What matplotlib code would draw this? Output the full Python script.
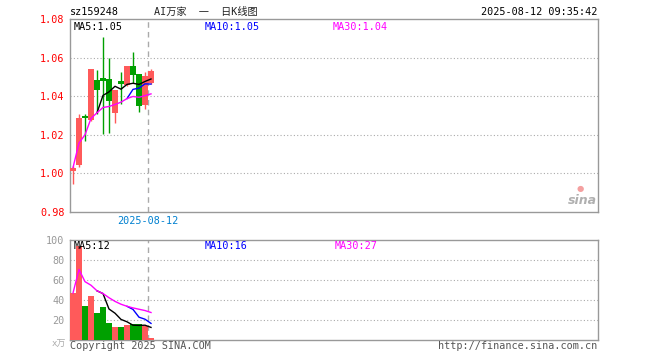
import matplotlib
matplotlib.use('Agg')
import matplotlib.pyplot as plt
import pandas as pd

# price data, one entry per candle
opens = [1.001, 1.0045, 1.030, 1.0275, 1.0486, 1.0496, 1.0487, 1.0311, 1.0477, 1.0456, 1.0554, 1.0514, 1.0355, 1.0466]
closes = [1.003, 1.0285, 1.0285, 1.054, 1.043, 1.048, 1.0377, 1.043, 1.0465, 1.0554, 1.0509, 1.0347, 1.0507, 1.0529]
highs = [1.004, 1.031, 1.031, 1.054, 1.0538, 1.0707, 1.0596, 1.043, 1.0526, 1.0556, 1.0628, 1.0515, 1.0526, 1.054]
lows = [0.9947, 1.0035, 1.017, 1.027, 1.0306, 1.0206, 1.021, 1.026, 1.036, 1.0455, 1.047, 1.032, 1.0335, 1.0465]
volumes = [47, 94, 34, 44, 27, 33, 17, 13, 13, 15, 16, 16, 14, 2]

price_ticks = [0.98, 1.00, 1.02, 1.04, 1.06, 1.08]
vol_ticks = [20, 40, 60, 80, 100]

RED = '#ff5a5a'
GREEN = '#00a000'
GRAY = '#999999'
MONO = ['DejaVu Sans Mono', 'Noto Sans CJK SC']

W, H = 660, 360
fig = plt.figure(figsize=(6.6, 3.6), dpi=100)

def px(x, y):
    return x / W, 1 - y / H

x = list(range(len(closes)))
s_close = pd.Series(closes)
s_vol = pd.Series(volumes)
ma5 = s_close.rolling(5).mean()
ma10 = s_close.rolling(10).mean()
ma30 = s_close.rolling(30, min_periods=1).mean()
vma5 = s_vol.rolling(5).mean()
vma10 = s_vol.rolling(10).mean()
vma30 = s_vol.rolling(30, min_periods=1).mean()

colors = []
for i in x:
    colors.append(RED if closes[i] >= opens[i] else GREEN)

# ---- price panel
ax = fig.add_axes([70 / W, (H - 212) / H, 528 / W, 193 / H])
for i in x:
    ax.vlines(i, lows[i], highs[i], color=colors[i], lw=1, zorder=2)
    bottom = min(opens[i], closes[i])
    height = max(abs(closes[i] - opens[i]), 0.0004)
    ax.bar(i, height, bottom=bottom, width=0.84, color=colors[i], zorder=3)
ax.plot(x, ma5, color='black', lw=1, zorder=4)
ax.plot(x, ma10, color='#0000ff', lw=1, zorder=4)
ax.plot(x, ma30, color='#ff00ff', lw=1, zorder=4)
ax.set_xlim(-0.5, 87.5)
ax.set_ylim(0.98, 1.08)
ax.set_yticks(price_ticks)
ax.set_yticklabels(['%.2f' % t for t in price_ticks], color='red', fontsize=7.3, family=MONO)
ax.set_xticks([])
ax.tick_params(axis='y', length=0, pad=4)
for t in price_ticks[1:-1]:
    ax.axhline(t, color='#aaaaaa', lw=0.8, ls=(0, (1, 2)), zorder=1)
ax.axvline(12.5, color='#aaaaaa', lw=1, ls=(0, (4, 3)), zorder=1)
for sp in ax.spines.values():
    sp.set_color(GRAY)
    sp.set_linewidth(1)

# ---- volume panel
axv = fig.add_axes([70 / W, 20 / H, 528 / W, 100 / H])
axv.bar(x, volumes, width=0.84, color=colors, zorder=3)
axv.plot(x, vma5, color='black', lw=1, zorder=4)
axv.plot(x, vma10, color='#0000ff', lw=1, zorder=4)
axv.plot(x, vma30, color='#ff00ff', lw=1, zorder=4)
axv.set_xlim(-0.5, 87.5)
axv.set_ylim(0, 100)
axv.set_yticks(vol_ticks)
axv.set_yticklabels([str(t) for t in vol_ticks], color=GRAY, fontsize=7.3, family=MONO)
axv.set_xticks([])
axv.tick_params(axis='y', length=0, pad=4)
for t in vol_ticks[:-1]:
    axv.axhline(t, color='#aaaaaa', lw=0.8, ls=(0, (1, 2)), zorder=1)
axv.axvline(12.5, color='#aaaaaa', lw=1, ls=(0, (4, 3)), zorder=1)
for sp in axv.spines.values():
    sp.set_color(GRAY)
    sp.set_linewidth(1)

# ---- texts
fs = 7.3
fig.text(*px(70, 12), 'sz159248', fontsize=fs, family=MONO, va='center', ha='left')
fig.text(*px(154, 12), 'AI万家  一  日K线图', fontsize=fs, family=MONO, va='center', ha='left', color='#222222')
fig.text(*px(597, 12), '2025-08-12 09:35:42', fontsize=fs, family=MONO, va='center', ha='right')

fig.text(*px(74, 27), 'MA5:%.2f' % ma5.iloc[-1], fontsize=fs, family=MONO, va='center', color='black')
fig.text(*px(205, 27), 'MA10:%.2f' % ma10.iloc[-1], fontsize=fs, family=MONO, va='center', color='#0000ff')
fig.text(*px(333, 27), 'MA30:%.2f' % ma30.iloc[-1], fontsize=fs, family=MONO, va='center', color='#ff00ff')

fig.text(*px(74, 246), 'MA5:%d' % int(vma5.iloc[-1]), fontsize=fs, family=MONO, va='center', color='black')
fig.text(*px(205, 246), 'MA10:%d' % int(vma10.iloc[-1]), fontsize=fs, family=MONO, va='center', color='#0000ff')
fig.text(*px(335, 246), 'MA30:%d' % int(vma30.iloc[-1]), fontsize=fs, family=MONO, va='center', color='#ff00ff')

fig.text(*px(148, 221), '2025-08-12', fontsize=fs, family=MONO, va='center', ha='center', color='#0080d0')
fig.text(*px(66, 344), 'x万', fontsize=6.5, family=MONO, va='center', ha='right', color='#aaaaaa')
fig.text(*px(70, 346), 'Copyright 2025 SINA.COM', fontsize=fs, family=MONO, va='center', ha='left', color='#555555')
fig.text(*px(597, 346), 'http://finance.sina.com.cn', fontsize=fs, family=MONO, va='center', ha='right', color='#555555')

# sina logo
fig.text(*px(582, 201), 'sina', fontsize=9, style='italic', weight='bold', va='center', ha='center', color='#b0b0b0')
fig.text(*px(580, 188), '●', fontsize=6, va='center', ha='center', color='#f4a0a0')

fig.savefig('out.png', dpi=100)
